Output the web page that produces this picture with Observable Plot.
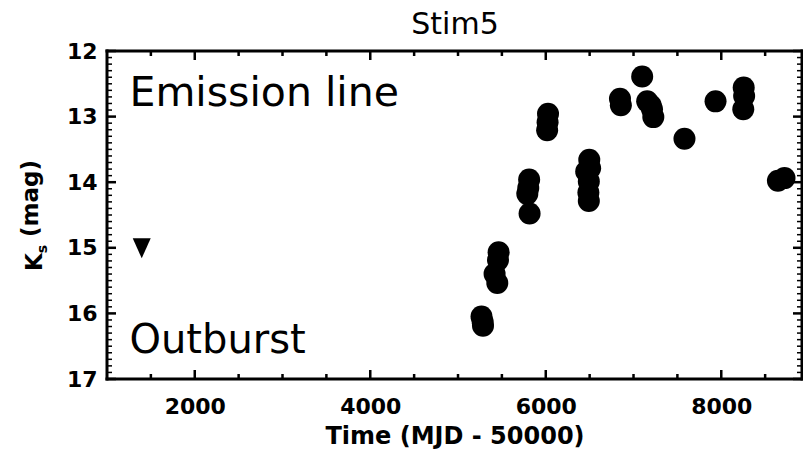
<!DOCTYPE html>
<html>
<head>
<meta charset="utf-8">
<script src="https://cdn.jsdelivr.net/npm/d3@7"></script>
<script src="https://cdn.jsdelivr.net/npm/@observablehq/plot@0.6"></script>
<style>
  body { margin: 0; background: #fff; }
  #chart svg { display: block; }
</style>
</head>
<body>
<div id="chart"></div>
<script>
// Data (time in MJD-50000, Ks magnitude)
const times = [5262, 5275, 5279, 5457, 5450, 5411, 5442, 5805, 5795, 5784, 5810,
  6020, 6015, 6010, 6490, 6500, 6455, 6485, 6480, 6485, 6840, 6850, 7093,
  7150, 7190, 7205, 7220, 7575, 7929, 8250, 8255, 8245, 8640, 8715];
const mags = [16.04, 16.12, 16.18, 15.06, 15.18, 15.39, 15.53, 13.95, 14.08, 14.17, 14.47,
  12.95, 13.08, 13.2, 13.65, 13.78, 13.83, 13.98, 14.15, 14.28, 12.72, 12.82, 12.38,
  12.76, 12.82, 12.88, 13.0, 13.33, 12.76, 12.55, 12.68, 12.88, 13.97, 13.93];
// Upper limit (outburst marker)
const limitTime = [1390];
const limitMag = [15.0];
const xTicks = [2000, 4000, 6000, 8000];
const yTicks = [12, 13, 14, 15, 16, 17];
const labels = ["Emission line", "Outburst"];
const titleText = "Stim5";
const xLabel = "Time (MJD - 50000)";

const points = times.map((t, i) => ({t, m: mags[i]}));
const limits = limitTime.map((t, i) => ({t, m: limitMag[i]}));

const W = 803, H = 459;
const mT = 51, mB = 80, mL = 107, mR = 1;
const fw = W - mL - mR, fh = H - mT - mB;
const xDom = [1000, 8920], yDom = [12, 17];

const xMinor = d3.range(1500, 8901, 500).filter(v => !xTicks.includes(v));
const yMinor = d3.range(121, 170).map(v => v / 10).filter(v => !yTicks.includes(v));

// pixel lengths converted to data units (for tick and frame shapes)
const xu = px => px * (xDom[1] - xDom[0]) / fw;
const yu = px => px * (yDom[1] - yDom[0]) / fh;

// tick shapes as thin filled rectangles
const xTickRects = (vals, len, wpx) => [
  Plot.rect(vals, {x1: d => d - xu(wpx / 2), x2: d => d + xu(wpx / 2), y1: yDom[1], y2: yDom[1] - yu(len), fill: "#000"}),
  Plot.rect(vals, {x1: d => d - xu(wpx / 2), x2: d => d + xu(wpx / 2), y1: yDom[0], y2: yDom[0] + yu(len), fill: "#000"})
];
const yTickRects = (vals, len, hpx) => [
  Plot.rect(vals, {y1: d => d - yu(hpx / 2), y2: d => d + yu(hpx / 2), x1: xDom[0], x2: xDom[0] + xu(len), fill: "#000"}),
  Plot.rect(vals, {y1: d => d - yu(hpx / 2), y2: d => d + yu(hpx / 2), x1: xDom[1], x2: xDom[1] - xu(len), fill: "#000"})
];
// frame edges as filled rectangles (3 px)
const edge = 1.5;
const frameRects = [
  Plot.rect([0], {x1: xDom[0] - xu(edge), x2: xDom[0] + xu(edge), y1: yDom[0] - yu(edge), y2: yDom[1] + yu(edge), fill: "#000"}),
  Plot.rect([0], {x1: xDom[1] - xu(edge), x2: xDom[1] + xu(edge), y1: yDom[0] - yu(edge), y2: yDom[1] + yu(edge), fill: "#000"}),
  Plot.rect([0], {x1: xDom[0] - xu(edge), x2: xDom[1] + xu(edge), y1: yDom[0] - yu(edge), y2: yDom[0] + yu(edge), fill: "#000"}),
  Plot.rect([0], {x1: xDom[0] - xu(edge), x2: xDom[1] + xu(edge), y1: yDom[1] - yu(edge), y2: yDom[1] + yu(edge), fill: "#000"})
];

const downTri = {
  draw(ctx) {
    ctx.moveTo(-9, -10);
    ctx.lineTo(9, -10);
    ctx.lineTo(0, 10);
    ctx.closePath();
  }
};

const sans = "'DejaVu Sans', Verdana, sans-serif";

const plot = Plot.plot({
  width: W, height: H,
  marginTop: mT, marginBottom: mB, marginLeft: mL, marginRight: mR,
  style: {fontFamily: sans, color: "#000"},
  x: {domain: xDom},
  y: {domain: yDom, reverse: true},
  marks: [
    // tick labels
    Plot.axisX(xTicks, {tickSize: 0, tickPadding: 19, fontSize: 22, fontWeight: "bold", tickFormat: d => String(d), label: null}),
    Plot.axisY(yTicks, {tickSize: 0, tickPadding: 10, fontSize: 22, fontWeight: "bold", tickFormat: d => String(d), label: null}),
    // data
    Plot.dot(points, {x: "t", y: "m", r: 11, fill: "#000", stroke: null}),
    Plot.dot(limits, {x: "t", y: "m", symbol: downTri, fill: "#000", stroke: null}),
    // annotations
    Plot.text([labels[0]], {frameAnchor: "top-left", dx: 22, dy: 41, text: d => d, fontSize: 41, textAnchor: "start", lineAnchor: "middle", fill: "#000"}),
    Plot.text([labels[1]], {frameAnchor: "bottom-left", dx: 22, dy: -39, text: d => d, fontSize: 40, textAnchor: "start", lineAnchor: "middle", fill: "#000"}),
    // title and axis titles
    Plot.text([titleText], {frameAnchor: "top", dy: -27, text: d => d, fontSize: 30, lineAnchor: "middle", fill: "#000"}),
    Plot.text([xLabel], {frameAnchor: "bottom", dy: 57, text: d => d, fontSize: 24, fontWeight: "bold", lineAnchor: "middle", fill: "#000"}),
    Plot.text(["K"], {frameAnchor: "left", dx: -73, rotate: -90, text: d => d, fontSize: 23, fontWeight: "bold", textAnchor: "middle", lineAnchor: "middle", fill: "#000", className: "ylab"}),
    // frame and inward ticks drawn on top
    ...frameRects,
    ...xTickRects(xTicks, 9, 2.5),
    ...xTickRects(xMinor, 5, 2.5),
    ...yTickRects(yTicks, 9, 2.5),
    ...yTickRects(yMinor, 5, 1.5)
  ]
});

document.getElementById("chart").appendChild(plot);

// Build the subscripted y-axis title (K_s (mag))
d3.select(plot).selectAll(".ylab text").each(function() {
  const t = d3.select(this);
  t.text(null);
  t.append("tspan").text("K");
  t.append("tspan").attr("font-size", 14).attr("dy", "0.4em").text("s");
  t.append("tspan").attr("dy", "-0.4em").attr("font-size", 23).text(" (mag)");
});
</script>
</body>
</html>
